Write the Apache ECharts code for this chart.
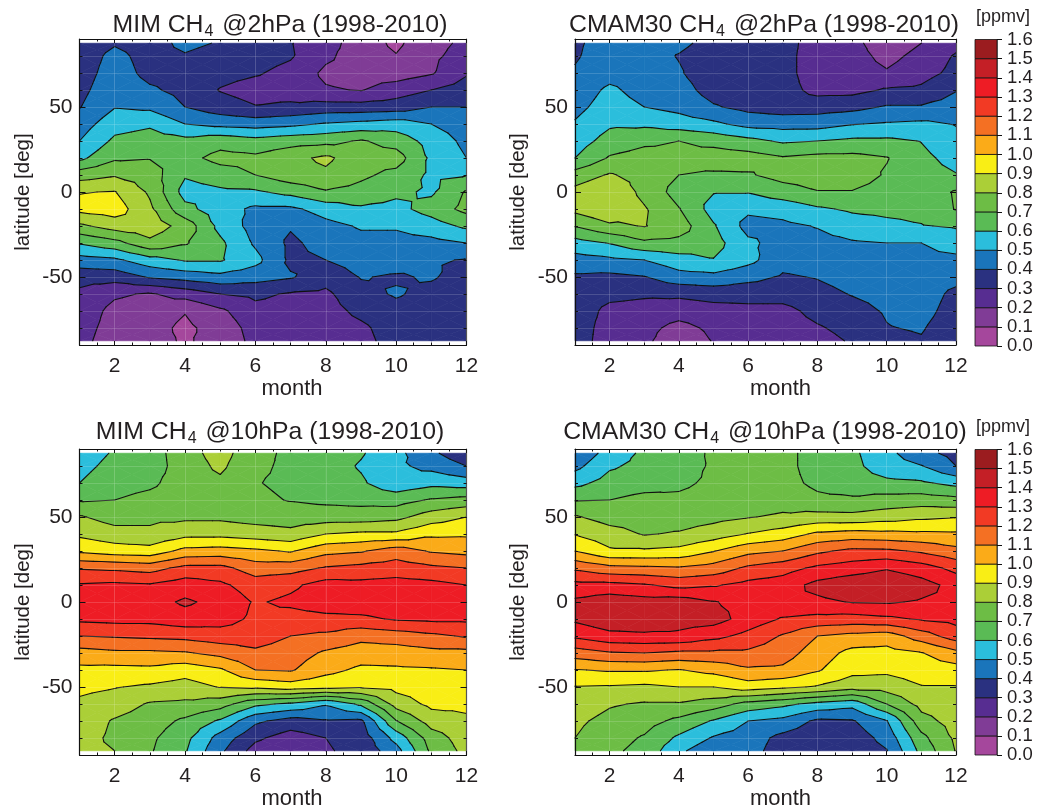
<!DOCTYPE html>
<html>
<head>
<meta charset="utf-8">
<title>CH4 climatology</title>
<script src="https://cdn.jsdelivr.net/npm/echarts@6/dist/echarts.min.js"></script>
<style>
html, body { margin: 0; padding: 0; background: #fff; }
#chart { width: 1048px; height: 807px; }
</style>
</head>
<body>
<div id="chart"></div>
<script>
const months = [1, 2, 3, 4, 5, 6, 7, 8, 9, 10, 11, 12]
const latitudes = [87.5, 80, 70, 60, 50, 40, 30, 20, 10, 0, -10, -20, -30, -40, -50, -60, -70, -80, -87.5]
const levels = [0, 0.1, 0.2, 0.3, 0.4, 0.5, 0.6, 0.7, 0.8, 0.9, 1.0, 1.1, 1.2, 1.3, 1.4, 1.5, 1.6]
const bandColors = ['#a5479c', '#803c96', '#572d91', '#2a3180', '#1a75bb', '#2bbedc', '#5abb55', '#6dbd45',
  '#abcf37', '#f9ee15', '#fbab18', '#f47023', '#f23a24', '#ee1c25', '#c41f26', '#9b1c1f']
const monthLabels = [2, 4, 6, 8, 10, 12]
const latLabels = [-50, 0, 50]

// one inner list per month, values run north to south like latitudes
const mim2hPa = [
  [.33, .34, .35, .37, .395, .45, .50, .575, .755, .895, .93, .78, .61, .46, .335, .28, .26, .24, .23],
  [.39, .43, .45, .47, .495, .56, .62, .685, .79, .905, .95, .845, .665, .48, .34, .215, .17, .16, .15],
  [.35, .36, .37, .415, .48, .585, .645, .695, .75, .785, .82, .86, .775, .56, .41, .19, .15, .135, .13],
  [.43, .39, .36, .37, .40, .50, .63, .67, .61, .56, .63, .76, .71, .61, .44, .24, .105, .08, .09],
  [.39, .35, .33, .295, .344, .47, .665, .73, .655, .58, .545, .57, .62, .61, .47, .30, .18, .14, .13],
  [.35, .34, .31, .26, .305, .457, .635, .72, .70, .585, .48, .46, .485, .53, .44, .32, .27, .24, .23],
  [.305, .31, .27, .255, .32, .475, .66, .77, .76, .63, .48, .41, .38, .38, .41, .29, .26, .24, .23],
  [.24, .22, .18, .21, .34, .51, .67, .82, .78, .69, .54, .47, .44, .40, .34, .28, .26, .245, .24],
  [.15, .15, .16, .195, .34, .53, .71, .74, .72, .665, .585, .51, .47, .44, .405, .37, .325, .28, .27],
  [.08, .105, .15, .25, .35, .55, .66, .745, .67, .62, .57, .51, .47, .44, .39, .41, .37, .35, .34],
  [.17, .18, .19, .30, .40, .50, .56, .58, .58, .585, .64, .555, .47, .41, .41, .37, .35, .33, .33],
  [.22, .24, .29, .345, .40, .45, .475, .50, .595, .71, .73, .62, .50, .395, .36, .34, .33, .33, .32],
]
const cmam2hPa = [
  [.385, .39, .41, .44, .47, .51, .55, .60, .745, .83, .83, .705, .56, .46, .385, .37, .365, .36, .36],
  [.44, .45, .46, .52, .547, .585, .64, .71, .81, .89, .89, .78, .605, .48, .375, .33, .27, .25, .24],
  [.43, .44, .45, .46, .50, .58, .68, .74, .76, .77, .81, .805, .68, .50, .395, .315, .26, .23, .22],
  [.42, .395, .41, .44, .47, .55, .70, .73, .70, .66, .705, .75, .67, .56, .46, .32, .24, .17, .14],
  [.37, .35, .34, .36, .41, .52, .67, .75, .685, .605, .56, .61, .64, .595, .47, .34, .26, .22, .205],
  [.36, .34, .33, .34, .37, .467, .63, .745, .69, .605, .52, .465, .52, .53, .43, .34, .27, .25, .24],
  [.35, .34, .34, .34, .35, .46, .585, .71, .735, .655, .535, .48, .46, .43, .39, .34, .27, .25, .24],
  [.24, .24, .24, .27, .355, .46, .60, .73, .75, .695, .585, .505, .47, .44, .405, .37, .33, .29, .265],
  [.23, .24, .25, .27, .37, .495, .62, .73, .75, .695, .615, .55, .49, .465, .435, .405, .365, .33, .31],
  [.14, .17, .21, .31, .41, .51, .62, .705, .69, .665, .625, .575, .50, .47, .45, .43, .41, .395, .37],
  [.20, .23, .26, .32, .41, .52, .597, .625, .64, .64, .63, .595, .50, .48, .47, .46, .44, .41, .39],
  [.27, .31, .33, .395, .445, .495, .53, .565, .605, .71, .705, .61, .545, .475, .44, .37, .35, .33, .32],
]
const mim10hPa = [
  [.55, .57, .60, .69, .81, .88, .98, 1.19, 1.31, 1.35, 1.32, 1.2, 1.06, .975, .925, .88, .86, .84, .83],
  [.61, .63, .66, .70, .76, .84, .95, 1.18, 1.32, 1.36, 1.33, 1.21, 1.08, .97, .905, .85, .79, .78, .80],
  [.65, .65, .68, .73, .78, .82, .94, 1.16, 1.31, 1.36, 1.33, 1.22, 1.08, .975, .885, .79, .75, .72, .71],
  [.76, .75, .75, .76, .78, .87, 1.03, 1.23, 1.35, 1.415, 1.36, 1.23, 1.09, .94, .86, .78, .68, .63, .61],
  [.84, .82, .78, .755, .78, .87, 1.04, 1.23, 1.32, 1.37, 1.34, 1.255, 1.13, .985, .905, .745, .585, .46, .42],
  [.73, .72, .705, .72, .76, .85, 1.02, 1.15, 1.25, 1.29, 1.28, 1.25, 1.18, 1.10, .92, .625, .42, .32, .26],
  [.68, .68, .68, .695, .75, .83, .99, 1.16, 1.28, 1.32, 1.26, 1.20, 1.15, 1.11, .95, .58, .36, .25, .21],
  [.66, .65, .655, .68, .75, .90, 1.07, 1.21, 1.34, 1.36, 1.27, 1.18, 1.085, 1.03, .93, .51, .39, .30, .29],
  [.61, .59, .615, .67, .75, .92, 1.09, 1.23, 1.33, 1.36, 1.28, 1.13, 1.05, .98, .91, .62, .38, .34, .33],
  [.53, .52, .53, .66, .77, .92, 1.15, 1.25, 1.34, 1.37, 1.31, 1.15, 1.05, .985, .93, .84, .695, .535, .46],
  [.42, .47, .57, .71, .85, .98, 1.09, 1.22, 1.33, 1.37, 1.32, 1.18, 1.07, .99, .96, .925, .845, .75, .72],
  [.33, .40, .55, .735, .90, .985, 1.07, 1.20, 1.30, 1.35, 1.32, 1.21, 1.07, 1.0, .96, .925, .88, .85, .83],
]
const cmam10hPa = [
  [.42, .47, .57, .695, .81, .895, 1.0, 1.18, 1.33, 1.42, 1.42, 1.32, 1.15, .995, .895, .86, .82, .80, .77],
  [.54, .585, .64, .70, .76, .84, .915, 1.13, 1.33, 1.46, 1.47, 1.37, 1.19, 1.01, .89, .81, .77, .74, .72],
  [.62, .63, .66, .73, .755, .793, .915, 1.12, 1.31, 1.44, 1.47, 1.38, 1.2, 1.01, .88, .79, .74, .69, .67],
  [.64, .65, .68, .72, .75, .81, .93, 1.11, 1.27, 1.45, 1.44, 1.38, 1.18, .995, .90, .79, .675, .58, .52],
  [.72, .715, .72, .74, .77, .85, .995, 1.14, 1.29, 1.405, 1.44, 1.33, 1.18, 1.03, .90, .75, .59, .49, .43],
  [.73, .72, .72, .74, .795, .905, 1.07, 1.22, 1.33, 1.37, 1.36, 1.27, 1.18, 1.085, .95, .665, .50, .45, .44],
  [.73, .73, .73, .76, .815, .945, 1.10, 1.26, 1.35, 1.39, 1.29, 1.19, 1.145, 1.08, .92, .625, .47, .37, .35],
  [.66, .66, .68, .72, .835, 1.02, 1.18, 1.32, 1.43, 1.38, 1.27, 1.10, 1.05, 1.01, .89, .57, .38, .33, .32],
  [.62, .63, .65, .715, .83, 1.04, 1.225, 1.35, 1.47, 1.405, 1.26, 1.07, .97, .93, .84, .535, .39, .34, .33],
  [.53, .54, .625, .74, .855, 1.03, 1.22, 1.39, 1.49, 1.41, 1.28, 1.05, .965, .92, .845, .70, .495, .435, .395],
  [.43, .505, .615, .75, .88, 1.02, 1.185, 1.345, 1.44, 1.39, 1.31, 1.15, .995, .945, .895, .835, .76, .67, .63],
  [.37, .40, .57, .73, .895, 1.015, 1.13, 1.27, 1.365, 1.385, 1.33, 1.25, 1.07, .96, .895, .87, .845, .82, .805],
]

const fontFamily = '"Liberation Sans", Arial, sans-serif'
const ink = '#231f20'

const panels = [
  { values: mim2hPa, name: 'MIM CH', rest: ' @2hPa (1998-2010)', left: 79.5, right: 466.5, top: 39, bottom: 345, titleX: 275, titleY: 5, monthPad: 38 },
  { values: cmam2hPa, name: 'CMAM30 CH', rest: ' @2hPa (1998-2010)', left: 575, right: 956, top: 39, bottom: 345, titleX: 759, titleY: 5, monthPad: 30 },
  { values: mim10hPa, name: 'MIM CH', rest: ' @10hPa (1998-2010)', left: 79.5, right: 466.5, top: 449, bottom: 755, titleX: 265, titleY: 412, monthPad: 38 },
  { values: cmam10hPa, name: 'CMAM30 CH', rest: ' @10hPa (1998-2010)', left: 575, right: 956, top: 449, bottom: 755, titleX: 760, titleY: 412, monthPad: 30 },
]

// cut a polygon of [x, y, value] corners to the side of a level
function clipPoly(poly, level, keepAbove) {
  const out = []
  for (let i = 0; i < poly.length; i++) {
    const a = poly[i]
    const b = poly[(i + 1) % poly.length]
    const aIn = keepAbove ? a[2] >= level : a[2] <= level
    const bIn = keepAbove ? b[2] >= level : b[2] <= level
    if (aIn) out.push(a)
    if (aIn !== bIn) {
      const t = (level - a[2]) / (b[2] - a[2])
      out.push([a[0] + t * (b[0] - a[0]), a[1] + t * (b[1] - a[1]), level])
    }
  }
  return out
}

function cellTriangles(values, api, i, j) {
  const corners = [[i, j], [i + 1, j], [i + 1, j + 1], [i, j + 1]].map(([m, l]) => {
    const p = api.coord([months[m], latitudes[l]])
    return [p[0], p[1], values[m][l]]
  })
  const mid = [0, 1, 2].map(k => (corners[0][k] + corners[1][k] + corners[2][k] + corners[3][k]) / 4)
  return corners.map((c, k) => [c, corners[(k + 1) % 4], mid])
}

function renderFill(values) {
  return (params, api) => {
    const children = []
    cellTriangles(values, api, api.value(0), api.value(1)).forEach(tri => {
      bandColors.forEach((color, b) => {
        let poly = clipPoly(tri, levels[b], true)
        if (poly.length) poly = clipPoly(poly, levels[b + 1], false)
        if (poly.length < 3) return
        children.push({
          type: 'polygon',
          shape: { points: poly.map(p => [p[0], p[1]]) },
          style: { fill: color, stroke: color, lineWidth: 0.7 },
          silent: true,
        })
      })
    })
    return { type: 'group', children }
  }
}

function renderLines(values) {
  return (params, api) => {
    const children = []
    cellTriangles(values, api, api.value(0), api.value(1)).forEach(tri => {
      levels.slice(1, -1).forEach(level => {
        const pts = []
        for (let k = 0; k < 3; k++) {
          const a = tri[k]
          const b = tri[(k + 1) % 3]
          if ((a[2] < level) !== (b[2] < level)) {
            const t = (level - a[2]) / (b[2] - a[2])
            pts.push([a[0] + t * (b[0] - a[0]), a[1] + t * (b[1] - a[1])])
          }
        }
        if (pts.length === 2) {
          children.push({
            type: 'polyline',
            shape: { points: pts },
            style: { fill: null, stroke: '#111', lineWidth: 1.1, lineCap: 'round' },
            silent: true,
          })
        }
      })
    })
    return { type: 'group', children }
  }
}

const cells = []
for (let i = 0; i < months.length - 1; i++) {
  for (let j = 0; j < latitudes.length - 1; j++) cells.push([i, j])
}

const grid = []
const xAxis = []
const yAxis = []
const series = []
const title = []

panels.forEach((p, n) => {
  grid.push({ left: p.left, width: p.right - p.left, top: p.top, height: p.bottom - p.top, outerBoundsMode: 'none' })
  title.push({
    left: p.titleX,
    top: p.titleY,
    textAlign: 'center',
    text: `{t|${p.name}}{s|4}{t|${p.rest}}`,
    textStyle: {
      rich: {
        t: { fontFamily, fontSize: 24.8, fontWeight: 'normal', color: ink, lineHeight: 30, verticalAlign: 'middle' },
        s: { fontFamily, fontSize: 16, fontWeight: 'normal', color: ink, lineHeight: 14, verticalAlign: 'bottom', padding: [10, 2, 0, 1] },
      },
    },
  })

  const firstX = xAxis.length
  const firstY = yAxis.length
  const xLine = { lineStyle: { color: '#111', width: 1.2 }, onZero: false }
  // bottom axis with labels and name, the rest only carry ticks
  xAxis.push({
    type: 'value', gridIndex: n, min: 1, max: 12, position: 'bottom', z: 6,
    name: 'month', nameLocation: 'middle', nameGap: 32,
    nameTextStyle: { fontFamily, fontSize: 22, color: ink, padding: [0, 0, 0, p.monthPad] },
    axisLine: xLine,
    axisTick: { inside: true, length: 4, customValues: monthLabels, lineStyle: { color: '#111' } },
    axisLabel: { customValues: monthLabels, fontFamily, fontSize: 21, color: ink, margin: 11 },
    splitLine: { show: true, lineStyle: { color: 'rgba(255,255,255,0.16)', width: 1 } },
  })
  xAxis.push({
    type: 'value', gridIndex: n, min: 1, max: 12, position: 'top', z: 6,
    axisLine: xLine,
    axisTick: { inside: true, length: 4, customValues: monthLabels, lineStyle: { color: '#111' } },
    axisLabel: { show: false }, splitLine: { show: false },
  })
  ;['bottom', 'top'].forEach(position => {
    xAxis.push({
      type: 'value', gridIndex: n, min: 1, max: 12, interval: 0.5, position, z: 6,
      axisLine: { show: false, onZero: false },
      axisTick: { inside: true, length: 2.5, lineStyle: { color: '#111' } },
      axisLabel: { show: false }, splitLine: { show: false },
    })
  })

  yAxis.push({
    type: 'value', gridIndex: n, min: -90, max: 90, position: 'left', z: 6,
    name: 'latitude [deg]', nameLocation: 'middle', nameGap: 46, nameRotate: 90,
    nameTextStyle: { fontFamily, fontSize: 20.5, color: ink },
    axisLine: xLine,
    axisTick: { inside: true, length: 6, customValues: latLabels, lineStyle: { color: '#111' } },
    axisLabel: { customValues: latLabels, fontFamily, fontSize: 21, color: ink, margin: 7 },
    splitLine: { show: false },
  })
  yAxis.push({
    type: 'value', gridIndex: n, min: -90, max: 90, position: 'right', z: 6,
    axisLine: { lineStyle: { color: '#555', width: 1.2 }, onZero: false },
    axisTick: { inside: true, length: 6, customValues: latLabels, lineStyle: { color: '#111' } },
    axisLabel: { show: false }, splitLine: { show: false },
  })
  ;['left', 'right'].forEach((position, k) => {
    yAxis.push({
      type: 'value', gridIndex: n, min: -90, max: 90, interval: 10, position, z: 6,
      axisLine: { show: false, onZero: false },
      axisTick: { inside: true, length: 3, lineStyle: { color: '#111' } },
      axisLabel: { show: false },
      splitLine: { show: k === 0, lineStyle: { color: 'rgba(255,255,255,0.16)', width: 1 } },
    })
  })

  series.push({
    type: 'custom', xAxisIndex: firstX, yAxisIndex: firstY, z: 2, silent: true,
    renderItem: renderFill(p.values), data: cells, encode: { x: [], y: [] }, clip: false, animation: false,
  })
  series.push({
    type: 'custom', xAxisIndex: firstX, yAxisIndex: firstY, z: 3, silent: true,
    renderItem: renderLines(p.values), data: cells, encode: { x: [], y: [] }, clip: false, animation: false,
  })
})

// colour bars, one per row
const bandData = bandColors.map((c, b) => [levels[b], levels[b + 1]])
const barRows = [[39.5, 346], [449.5, 755]]
barRows.forEach(([top, bottom]) => {
  const g = grid.length
  grid.push({ left: 975, width: 22, top, height: bottom - top, outerBoundsMode: 'none' })
  xAxis.push({ type: 'value', gridIndex: g, min: 0, max: 1, show: false })
  yAxis.push({
    type: 'value', gridIndex: g, min: 0, max: 1.6, interval: 0.1, position: 'right',
    name: '[ppmv]', nameLocation: 'end', nameGap: 13,
    nameTextStyle: { fontFamily, fontSize: 18, color: ink, align: 'center', padding: [0, 0, 0, 12] },
    axisLine: { show: true, lineStyle: { color: '#777', width: 1 }, onZero: false },
    axisTick: { length: 5, lineStyle: { color: '#111' } },
    axisLabel: {
      fontFamily, fontSize: 18.5, color: ink, margin: 10,
      showMinLabel: true, showMaxLabel: true, hideOverlap: false, formatter: v => v.toFixed(1),
    },
    splitLine: { show: false },
  })
  series.push({
    type: 'custom', xAxisIndex: xAxis.length - 1, yAxisIndex: yAxis.length - 1, silent: true, animation: false,
    data: bandData,
    encode: { y: [0, 1] },
    renderItem: (params, api) => {
      const lo = api.coord([0, api.value(0)])
      const hi = api.coord([1, api.value(1)])
      return {
        type: 'rect',
        shape: { x: lo[0], y: hi[1], width: hi[0] - lo[0], height: lo[1] - hi[1] },
        style: { fill: bandColors[params.dataIndex], stroke: '#111', lineWidth: 0.8 },
      }
    },
  })
})

const chart = echarts.init(document.getElementById('chart'), null, { renderer: 'canvas' })
chart.setOption({ animation: false, backgroundColor: '#fff', title, grid, xAxis, yAxis, series })
</script>
</body>
</html>
